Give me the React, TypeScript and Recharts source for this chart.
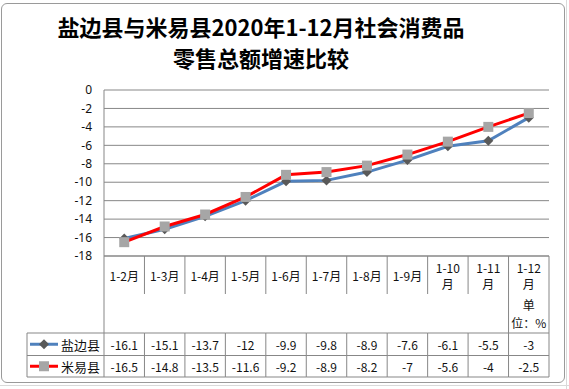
import React from 'react';
import { LineChart, Line, XAxis, YAxis, CartesianGrid } from 'recharts';

const categories = ['1-2月', '1-3月', '1-4月', '1-5月', '1-6月', '1-7月', '1-8月', '1-9月', '1-10月', '1-11月', '1-12月'];
const yanbian = [-16.1, -15.1, -13.7, -12, -9.9, -9.8, -8.9, -7.6, -6.1, -5.5, -3];
const miyi = [-16.5, -14.8, -13.5, -11.6, -9.2, -8.9, -8.2, -7, -5.6, -4, -2.5];
const yTicks = [0, -2, -4, -6, -8, -10, -12, -14, -16, -18];
const seriesNames = ['盐边县', '米易县'];
const unitLabel = ['单', '位：%'];
const titleLines = ['盐边县与米易县2020年1-12月社会消费品', '零售总额增速比较'];

const data = categories.map((c, i) => ({ name: c, yanbian: yanbian[i], miyi: miyi[i] }));

const GRID = '#878787';
const BLUE = '#4F81BD';
const RED = '#FF0000';
const DIAMOND = '#595959';
const SQUARE = '#A6A6A6';
const FONT = '"Noto Sans CJK SC", "Noto Sans", sans-serif';
const TEXT = '#111';

const HEAD_H = 38;
const ROW1 = 77;
const ROW2 = 99.5;
const ROW_END = 121;
const LEGEND_W = 77;

function wrapLabel(label: string): string[] {
  if (label.length > 4) return [label.slice(0, -1), label.slice(-1)];
  return [label];
}

function DiamondDot(props: any) {
  const { cx, cy } = props;
  if (cx == null || cy == null) return null;
  const r = 5;
  return <polygon points={`${cx},${cy - r} ${cx + r},${cy} ${cx},${cy + r} ${cx - r},${cy}`} fill={DIAMOND} />;
}

function SquareDot(props: any) {
  const { cx, cy } = props;
  if (cx == null || cy == null) return null;
  return <rect x={cx - 5} y={cy - 5} width={10} height={10} fill={SQUARE} />;
}

function TableTick(props: any) {
  const { x, y, payload, index, width } = props;
  const n = categories.length;
  const w = (width || 445) / n;
  const left = x - w / 2;
  const right = x + w / 2;
  const label = String(payload.value);
  const lines = wrapLabel(label);
  const isLast = index === n - 1;
  const isFirst = index === 0;
  const els: React.ReactNode[] = [];
  const textProps = { fontFamily: FONT, fontSize: 12, fill: TEXT, textAnchor: 'middle' as const, dominantBaseline: 'central' as const };

  lines.forEach((ln, k) => {
    const ty = lines.length === 1 ? y + 19 : y + 11 + k * 16;
    els.push(<text key={'l' + k} x={x} y={ty} {...textProps}>{ln}</text>);
  });
  if (isLast) {
    unitLabel.forEach((ln, k) => {
      els.push(<text key={'u' + k} x={x} y={y + 48 + k * 18} {...textProps}>{ln}</text>);
    });
  }
  // vertical left line of header
  els.push(<line key="vl" x1={left} y1={y} x2={left} y2={isFirst || isLast ? y + ROW_END : y + HEAD_H} stroke={GRID} />);
  if (!isFirst && !isLast) {
    els.push(<line key="vl2" x1={left} y1={y + ROW1} x2={left} y2={y + ROW_END} stroke={GRID} />);
  }
  if (isLast) {
    els.push(<line key="vr" x1={right} y1={y} x2={right} y2={y + ROW_END} stroke={GRID} />);
  }
  const x0 = isFirst ? left - LEGEND_W : left;
  [ROW1, ROW2, ROW_END].forEach((ry, k) => {
    els.push(<line key={'h' + k} x1={x0} y1={y + ry} x2={right} y2={y + ry} stroke={GRID} />);
  });
  els.push(<text key="v1" x={x} y={y + (ROW1 + ROW2) / 2} {...textProps}>{String(yanbian[index])}</text>);
  els.push(<text key="v2" x={x} y={y + (ROW2 + ROW_END) / 2} {...textProps}>{String(miyi[index])}</text>);

  if (isFirst) {
    const lx = left - LEGEND_W;
    els.push(<line key="lgv" x1={lx} y1={y + ROW1} x2={lx} y2={y + ROW_END} stroke={GRID} />);
    const rowsY = [(ROW1 + ROW2) / 2, (ROW2 + ROW_END) / 2];
    const colors = [BLUE, RED];
    rowsY.forEach((ry, k) => {
      const cy = y + ry;
      els.push(<line key={'ls' + k} x1={lx + 3} y1={cy} x2={lx + 31} y2={cy} stroke={colors[k]} strokeWidth={3} />);
      if (k === 0) {
        els.push(<DiamondDot key={'lm' + k} cx={lx + 17} cy={cy} />);
      } else {
        els.push(<SquareDot key={'lm' + k} cx={lx + 17} cy={cy} />);
      }
      els.push(
        <text key={'lt' + k} x={lx + 34} y={cy} fontFamily={FONT} fontSize={13} fill={TEXT} dominantBaseline="central">
          {seriesNames[k]}
        </text>
      );
    });
  }
  return <g>{els}</g>;
}

export default function App() {
  return (
    <div style={{ position: 'fixed', left: 0, top: 0, width: 569, height: 389, background: '#fff', overflow: 'hidden' }}>
      {/* spreadsheet background hints */}
      <div style={{ position: 'absolute', left: 566, top: 0, width: 1, height: 389, background: '#dadada' }} />
      <div style={{ position: 'absolute', left: 0, top: 385, width: 569, height: 1, background: '#dadada' }} />
      <div
        style={{
          position: 'absolute',
          left: 1,
          top: 3,
          width: 562,
          height: 378,
          border: '1px solid #9a9a9a',
          borderRadius: 6,
          background: '#fff',
        }}
      />
      <div
        style={{
          position: 'absolute',
          left: 0,
          top: 11,
          width: 522,
          textAlign: 'center',
          fontFamily: FONT,
          fontWeight: 'bold',
          fontSize: 22,
          lineHeight: '31px',
          color: '#000',
        }}
      >
        {titleLines.map((t) => (
          <div key={t}>{t}</div>
        ))}
      </div>
      <div style={{ position: 'absolute', left: 0, top: 0 }}>
        <LineChart width={569} height={389} data={data} margin={{ top: 90, right: 20, bottom: 0, left: 0 }}>
          <CartesianGrid vertical={false} stroke={GRID} strokeWidth={1} />
          <XAxis
            dataKey="name"
            scale="band"
            interval={0}
            height={133}
            tickLine={false}
            tickSize={0}
            tickMargin={0}
            axisLine={{ stroke: GRID }}
            tick={<TableTick />}
          />
          <YAxis
            domain={[-18, 0]}
            ticks={yTicks}
            width={104}
            interval={0}
            tickLine={false}
            tickSize={6}
            tickMargin={6}
            axisLine={{ stroke: GRID }}
            tick={{ fontFamily: '"Noto Sans", sans-serif', fontSize: 12, fill: TEXT }}
          />
          <Line
            dataKey="yanbian"
            stroke={BLUE}
            strokeWidth={3}
            dot={<DiamondDot />}
            activeDot={false}
            isAnimationActive={false}
          />
          <Line
            dataKey="miyi"
            stroke={RED}
            strokeWidth={3}
            dot={<SquareDot />}
            activeDot={false}
            isAnimationActive={false}
          />
        </LineChart>
      </div>
    </div>
  );
}
